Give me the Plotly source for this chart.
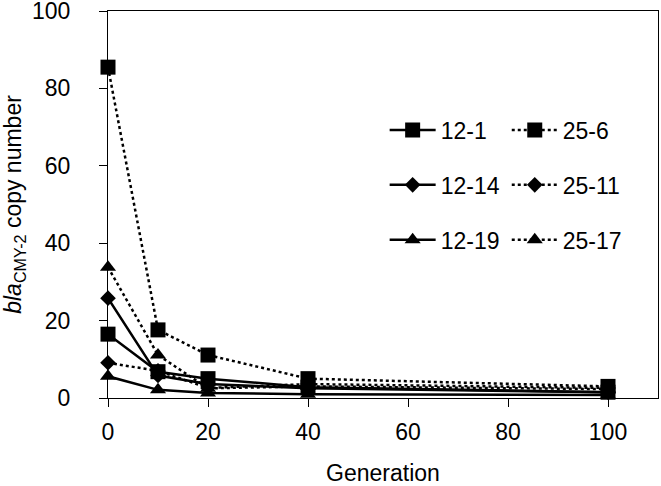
import plotly.graph_objects as go

generation = [0, 10, 20, 40, 100]
s12_1 = [16.5, 6.8, 5.0, 2.8, 1.5]
s12_14 = [25.8, 5.8, 3.6, 2.5, 1.5]
s12_19 = [5.6, 2.1, 1.3, 1.0, 0.8]
s25_6 = [85.5, 17.6, 11.1, 5.0, 3.0]
s25_11 = [9.1, 7.0, 2.6, 3.6, 2.6]
s25_17 = [33.8, 11.1, 2.5, 3.0, 2.3]

series = [
    ("12-1", s12_1, "solid", "square", 15, "legend"),
    ("12-14", s12_14, "solid", "diamond", 12, "legend"),
    ("12-19", s12_19, "solid", "triangle-up", 14, "legend"),
    ("25-6", s25_6, "dot", "square", 15, "legend2"),
    ("25-11", s25_11, "dot", "diamond", 12, "legend2"),
    ("25-17", s25_17, "dot", "triangle-up", 14, "legend2"),
]

fig = go.Figure()
for name, vals, dash, sym, size, leg in series:
    fig.add_trace(go.Scatter(
        x=generation, y=vals, name=name, mode="lines+markers",
        line=dict(color="black", width=2.5, dash=dash),
        marker=dict(symbol=sym, size=size, color="black", line=dict(width=0)),
        legend=leg, legendgroup=name, cliponaxis=False,
    ))

font = dict(family="Liberation Sans, Arial, sans-serif", size=23, color="black")

fig.update_layout(
    width=661, height=486,
    margin=dict(l=108, r=3, t=11, b=88),
    paper_bgcolor="white", plot_bgcolor="white",
    font=font,
    showlegend=True,
    legend=dict(x=0.503, y=0.748, xanchor="left", yanchor="top",
                bgcolor="rgba(0,0,0,0)", font=font, tracegroupgap=22,
                itemwidth=46),
    legend2=dict(x=0.725, y=0.748, xanchor="left", yanchor="top",
                 bgcolor="rgba(0,0,0,0)", font=font, tracegroupgap=22,
                 itemwidth=46),
    xaxis=dict(range=[0, 110], tickvals=[0, 20, 40, 60, 80, 100],
               showgrid=False, zeroline=False, automargin=False,
               showline=True, linecolor="black", linewidth=1.3, mirror=True,
               ticks="outside", ticklen=8, tickwidth=1.3, tickcolor="black",
               ticklabelstandoff=5, ticklabeloverflow="allow", tickfont=font,
               title=dict(text="Generation", font=font, standoff=36)),
    yaxis=dict(range=[0, 100.01], tickvals=[0, 20, 40, 60, 80, 100],
               showgrid=False, zeroline=False, automargin=False,
               showline=True, linecolor="black", linewidth=1.3, mirror=True,
               ticks="outside", ticklen=8, tickwidth=1.3, tickcolor="black",
               ticklabelstandoff=24, ticklabeloverflow="allow", tickfont=font,
               title=dict(text="<i>bla</i><sub>CMY-2</sub> copy number",
                          font=font, standoff=9)),
)

fig.write_html("out.html", config={"displayModeBar": False},
               post_script="document.body.style.margin='0px';")
